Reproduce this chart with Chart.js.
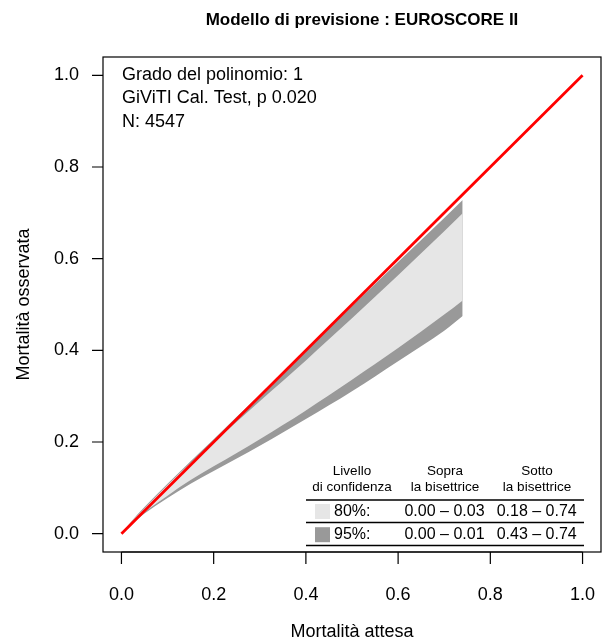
<!DOCTYPE html>
<html>
<head>
<meta charset="utf-8">
<script src="https://cdn.jsdelivr.net/npm/chart.js@4.4.0/dist/chart.umd.min.js"></script>
<style>
  body { margin: 0; background: #fff; }
  canvas { display: block; }
</style>
</head>
<body>
<canvas id="calibBelt" width="605" height="642"></canvas>
<script>
// expected mortality values where the belt edges were read
const expected = [0.005, 0.02, 0.05, 0.1, 0.15, 0.2, 0.25, 0.3, 0.35, 0.4, 0.45, 0.5, 0.55, 0.6, 0.65, 0.7, 0.74];
// belt edges (observed mortality)
const upper95 = [0.006, 0.025, 0.058, 0.109, 0.158, 0.206, 0.255, 0.303, 0.352, 0.401, 0.449, 0.497, 0.545, 0.593, 0.641, 0.689, 0.728];
const upper80 = [0.006, 0.024, 0.055, 0.106, 0.154, 0.199, 0.244, 0.289, 0.333, 0.378, 0.424, 0.470, 0.517, 0.564, 0.612, 0.660, 0.699];
const lower80 = [0.006, 0.021, 0.047, 0.083, 0.117, 0.147, 0.176, 0.206, 0.237, 0.269, 0.302, 0.336, 0.370, 0.405, 0.441, 0.478, 0.509];
const lower95 = [0.005, 0.0195, 0.044, 0.078, 0.109, 0.137, 0.164, 0.192, 0.221, 0.250, 0.280, 0.311, 0.343, 0.376, 0.409, 0.443, 0.475];
const bisector = [0, 1];

const tickValues = [0, 0.2, 0.4, 0.6, 0.8, 1.0];
const tickLabels = ['0.0', '0.2', '0.4', '0.6', '0.8', '1.0'];

const title = 'Modello di previsione : EUROSCORE II';
const xTitle = 'Mortalità attesa';
const yTitle = 'Mortalità osservata';
const infoLines = ['Grado del polinomio: 1', 'GiViTI Cal. Test, p 0.020', 'N: 4547'];

const tableHeader = [['Livello', 'di confidenza'], ['Sopra', 'la bisettrice'], ['Sotto', 'la bisettrice']];
const tableLevels = ['80%:', '95%:'];
const tableAbove = ['0.00 – 0.03', '0.00 – 0.01'];
const tableBelow = ['0.18 – 0.74', '0.43 – 0.74'];
const beltColors = ['#e6e6e6', '#999999'];

const FONT = '"Liberation Sans", Arial, Helvetica, sans-serif';

const pts = (xs, ys) => xs.map((v, i) => ({ x: v, y: ys[i] }));

// draws the R-style frame, axes, texts and the little table
const frame = {
  id: 'frame',
  afterDraw(chart) {
    const { ctx, chartArea: a, scales: { x, y } } = chart;
    ctx.save();
    ctx.strokeStyle = '#000';
    ctx.fillStyle = '#000';
    ctx.lineWidth = 1.2;
    ctx.strokeRect(a.left, a.top, a.right - a.left, a.bottom - a.top);

    // x axis
    ctx.beginPath();
    ctx.moveTo(x.getPixelForValue(tickValues[0]), a.bottom);
    ctx.lineTo(x.getPixelForValue(tickValues[tickValues.length - 1]), a.bottom);
    tickValues.forEach(v => {
      const px = x.getPixelForValue(v);
      ctx.moveTo(px, a.bottom);
      ctx.lineTo(px, a.bottom + 12);
    });
    // y axis
    tickValues.forEach(v => {
      const py = y.getPixelForValue(v);
      ctx.moveTo(a.left, py);
      ctx.lineTo(a.left - 11, py);
    });
    ctx.stroke();

    ctx.font = '18px ' + FONT;
    ctx.textBaseline = 'middle';
    ctx.textAlign = 'center';
    tickValues.forEach((v, i) => {
      ctx.fillText(tickLabels[i], x.getPixelForValue(v), a.bottom + 43);
    });
    ctx.textAlign = 'right';
    tickValues.forEach((v, i) => {
      ctx.fillText(tickLabels[i], a.left - 24, y.getPixelForValue(v));
    });

    // axis titles
    ctx.textAlign = 'center';
    ctx.fillText(xTitle, (a.left + a.right) / 2, 632);
    ctx.save();
    ctx.translate(24, (a.top + a.bottom) / 2);
    ctx.rotate(-Math.PI / 2);
    ctx.fillText(yTitle, 0, 0);
    ctx.restore();

    // main title
    ctx.font = 'bold 17px ' + FONT;
    ctx.fillText(title, 362, 20);

    // info text
    ctx.font = '18px ' + FONT;
    ctx.textAlign = 'left';
    infoLines.forEach((t, i) => ctx.fillText(t, 122, 75 + i * 23.3));

    // table
    const colX = [352, 445, 537];
    ctx.font = '13.5px ' + FONT;
    ctx.textAlign = 'center';
    tableHeader.forEach((h, i) => {
      ctx.fillText(h[0], colX[i], 471.5);
      ctx.fillText(h[1], colX[i], 487.5);
    });
    ctx.lineWidth = 1.5;
    ctx.beginPath();
    [500, 522.5, 545.5].forEach(ly => {
      ctx.moveTo(306, ly);
      ctx.lineTo(584, ly);
    });
    ctx.stroke();

    ctx.font = '16px ' + FONT;
    tableLevels.forEach((lv, i) => {
      const ry = 511.5 + i * 23.2;
      ctx.fillStyle = beltColors[i];
      ctx.fillRect(315, ry - 7.5, 15, 15);
      ctx.fillStyle = '#000';
      ctx.textAlign = 'left';
      ctx.fillText(lv, 334, ry);
      ctx.textAlign = 'center';
      ctx.fillText(tableAbove[i], 444.5, ry);
      ctx.fillText(tableBelow[i], 536.7, ry);
    });
    ctx.restore();
  }
};

const ctx = document.getElementById('calibBelt').getContext('2d');
const bandLine = { borderColor: 'rgba(0,0,0,0)', borderWidth: 0, pointRadius: 0, cubicInterpolationMode: 'monotone' };

new Chart(ctx, {
  type: 'line',
  data: {
    datasets: [
      { label: 'bisettrice', data: pts(bisector, bisector), borderColor: '#ff0000', borderWidth: 2.8, pointRadius: 0, fill: false },
      { ...bandLine, label: '80% sup', data: pts(expected, upper80), fill: '+1', backgroundColor: beltColors[0] },
      { ...bandLine, label: '80% inf', data: pts(expected, lower80), fill: false },
      { ...bandLine, label: '95% sup', data: pts(expected, upper95), fill: '+1', backgroundColor: beltColors[1] },
      { ...bandLine, label: '95% inf', data: pts(expected, lower95), fill: false }
    ]
  },
  options: {
    responsive: false,
    animation: false,
    layout: { padding: { left: 103, top: 57, right: 4, bottom: 90 } },
    scales: {
      x: { type: 'linear', min: -0.04, max: 1.04, display: false },
      y: { type: 'linear', min: -0.04, max: 1.04, display: false }
    },
    plugins: { legend: { display: false }, tooltip: { enabled: false } }
  },
  plugins: [frame]
});
</script>
</body>
</html>
